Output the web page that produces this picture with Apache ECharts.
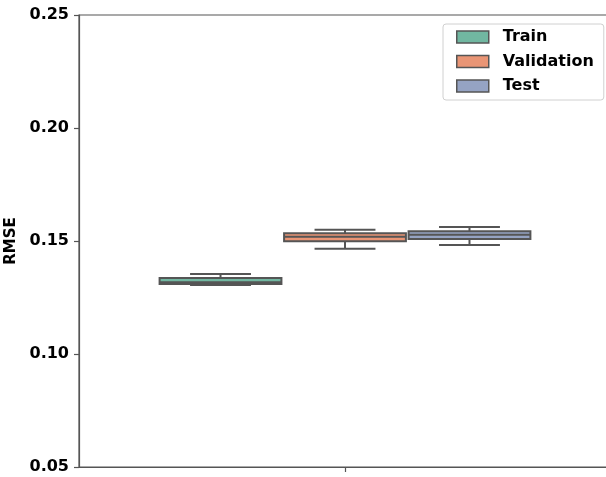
<!DOCTYPE html>
<html>
<head>
<meta charset="utf-8">
<script src="https://cdn.jsdelivr.net/npm/echarts@6/dist/echarts.min.js"></script>
<style>
  html, body { margin: 0; padding: 0; background: #fff; }
  #chart { width: 606px; height: 477px; }
</style>
</head>
<body>
<div id="chart"></div>
<script>
// Box statistics per split: [min, Q1, median, Q3, max]
const groups = ['Train', 'Validation', 'Test'];
const trainStats = [0.1305, 0.1310, 0.1317, 0.1336, 0.1354];
const validationStats = [0.1466, 0.1499, 0.1519, 0.1534, 0.1550];
const testStats = [0.1482, 0.1509, 0.1528, 0.1543, 0.1562];
const yTicks = [0.05, 0.10, 0.15, 0.20, 0.25];

const statsByGroup = [trainStats, validationStats, testStats];
const fills = ['#71b7a1', '#e99575', '#95a3c3'];
const lineColor = '#555555';
const FONT = 'DejaVu Sans';

// Dodge layout inside the single category band
const SLOT = 0.234;   // spacing between hue boxes, fraction of band
const BOX = 0.229;    // box width, fraction of band

function renderItem(params, api) {
  const idx = params.seriesIndex;
  const band = api.size([1, 0])[0];
  const xv = api.value(0);
  const cx = api.coord([xv, 0])[0] + (idx - 1) * band * SLOT;
  const half = band * BOX / 2;
  const capHalf = half / 2;
  const y = k => api.coord([xv, api.value(k)])[1];
  const yMin = y(1), yQ1 = y(2), yMed = y(3), yQ3 = y(4), yMax = y(5);
  const ls = { stroke: lineColor, lineWidth: 2 };
  return {
    type: 'group',
    children: [
      { type: 'rect', shape: { x: cx - half, y: yQ3, width: 2 * half, height: yQ1 - yQ3 },
        style: { fill: fills[idx], stroke: lineColor, lineWidth: 2 } },
      { type: 'line', shape: { x1: cx, y1: yQ3, x2: cx, y2: yMax }, style: ls },
      { type: 'line', shape: { x1: cx, y1: yQ1, x2: cx, y2: yMin }, style: ls },
      { type: 'line', shape: { x1: cx - capHalf, y1: yMax, x2: cx + capHalf, y2: yMax }, style: ls },
      { type: 'line', shape: { x1: cx - capHalf, y1: yMin, x2: cx + capHalf, y2: yMin }, style: ls },
      { type: 'line', shape: { x1: cx - half, y1: yMed, x2: cx + half, y2: yMed }, style: ls }
    ]
  };
}

const chart = echarts.init(document.getElementById('chart'), null, { renderer: 'canvas' });

chart.setOption({
  animation: false,
  backgroundColor: '#ffffff',
  grid: {
    left: 79, top: 15, width: 532, bottom: 10,
    outerBoundsMode: 'none',
    containLabel: false,
    show: true, borderColor: lineColor, borderWidth: 1.2, backgroundColor: 'transparent'
  },
  legend: {
    orient: 'vertical',
    left: 443, top: 24,
    padding: [4, 10, 5, 13],
    backgroundColor: '#ffffff',
    borderColor: '#d0d0d0',
    borderWidth: 1,
    borderRadius: 3,
    itemWidth: 32,
    itemHeight: 12,
    itemGap: 6.5,
    icon: 'rect',
    itemStyle: { borderColor: lineColor, borderWidth: 1.5 },
    textStyle: {
      fontFamily: FONT, fontWeight: 'bold', fontSize: 16, color: '#000',
      lineHeight: 18, padding: [0, 0, 0, 9]
    },
    data: groups
  },
  xAxis: {
    type: 'category',
    data: [''],
    axisLine: { show: true, lineStyle: { color: lineColor, width: 1.2 } },
    axisTick: { show: true, alignWithLabel: true, length: 5, lineStyle: { color: lineColor, width: 1.2 } },
    axisLabel: { show: false },
    splitLine: { show: false }
  },
  yAxis: {
    type: 'value',
    min: yTicks[0],
    max: yTicks[yTicks.length - 1],
    interval: 0.05,
    name: 'RMSE',
    nameLocation: 'middle',
    nameRotate: 90,
    nameGap: 52,
    nameTextStyle: { fontFamily: FONT, fontWeight: 'bold', fontSize: 15, color: '#000' },
    axisLine: { show: true, lineStyle: { color: lineColor, width: 1.2 } },
    axisTick: { show: true, length: 5, lineStyle: { color: lineColor, width: 1.2 } },
    axisLabel: {
      fontFamily: FONT, fontWeight: 'bold', fontSize: 16, color: '#000', margin: 10,
      formatter: v => v.toFixed(2)
    },
    splitLine: { show: false }
  },
  series: groups.map((name, i) => ({
    name: name,
    type: 'custom',
    renderItem: renderItem,
    itemStyle: { color: fills[i] },
    encode: { x: 0, y: [1, 2, 3, 4, 5] },
    data: [[0].concat(statsByGroup[i])]
  }))
});
</script>
</body>
</html>
